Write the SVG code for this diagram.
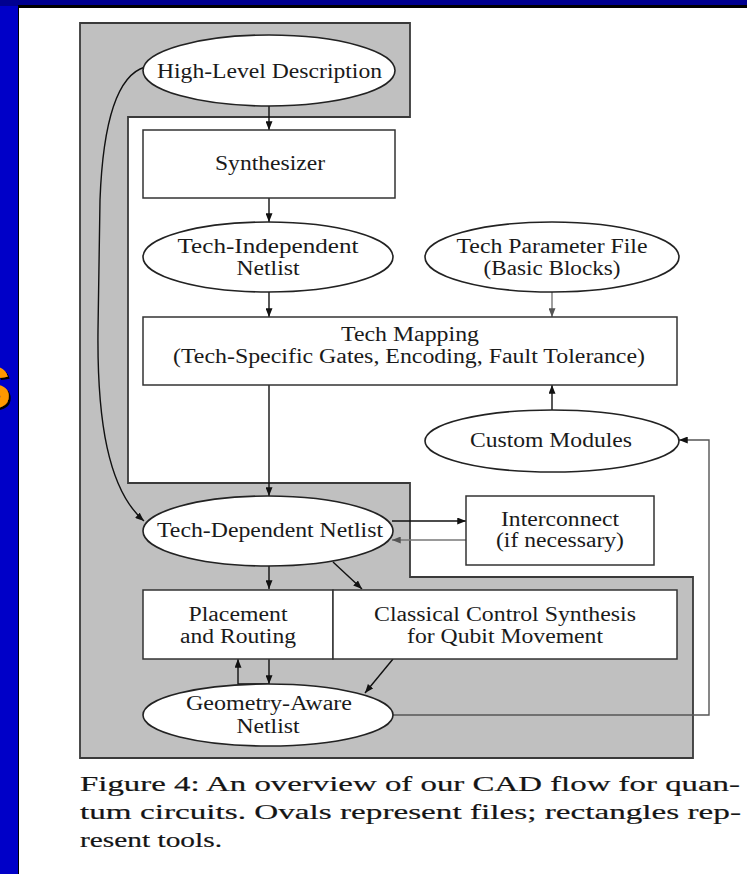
<svg xmlns="http://www.w3.org/2000/svg" width="747" height="874" viewBox="0 0 747 874">
  <style>
    .lbl { font-family: "Liberation Serif", "Times New Roman", serif; font-size: 20px; fill: #1a1a1a; text-anchor: middle; }
    .cap { font-family: "Liberation Serif", "Times New Roman", serif; font-size: 22px; fill: #151515; stroke: #151515; stroke-width: 0.2; }
    .oval { fill: #ffffff; stroke: #222; stroke-width: 1.6; }
    .box { fill: #ffffff; stroke: #333; stroke-width: 1.5; }
    .edge { fill: none; stroke: #111; stroke-width: 1.4; marker-end: url(#ah); }
    .edge-soft { fill: none; stroke: #777; stroke-width: 1.4; marker-end: url(#ah-soft); }
    .edge-mid { fill: none; stroke: #555; stroke-width: 1.4; marker-end: url(#ah); }
  </style>
  <defs>
    <marker id="ah" viewBox="0 0 10 8" refX="10" refY="4" markerWidth="9" markerHeight="7" orient="auto" markerUnits="userSpaceOnUse">
      <path d="M0,0 L10,4 L0,8 z" fill="#111"/>
    </marker>
    <marker id="ah-soft" viewBox="0 0 10 8" refX="10" refY="4" markerWidth="9" markerHeight="7" orient="auto" markerUnits="userSpaceOnUse">
      <path d="M0,0 L10,4 L0,8 z" fill="#555"/>
    </marker>
    <!-- hard black drop shadow for the slide title lettering -->
    <filter id="title-shadow" x="-20%" y="-20%" width="140%" height="140%">
      <feOffset in="SourceAlpha" dx="2" dy="2" result="off"/>
      <feMerge>
        <feMergeNode in="off"/>
        <feMergeNode in="SourceGraphic"/>
      </feMerge>
    </filter>
  </defs>

  <!-- slide background -->
  <rect x="0" y="0" width="747" height="874" fill="#0000c8"/>
  <rect x="0" y="0" width="747" height="6" fill="#000090"/>
  <!-- title letter running under the figure panel -->
  <text x="-29" y="408" font-family="Liberation Sans, Arial, sans-serif" font-weight="bold" font-size="60" fill="#ff9900" filter="url(#title-shadow)">S</text>
  <!-- white figure panel -->
  <rect x="18" y="5" width="729" height="869" fill="#000"/>
  <rect x="19" y="8" width="728" height="866" fill="#ffffff"/>

  <!-- shaded region behind the flow -->
  <polygon id="region" points="80,23 410,23 410,117 128,117 128,483 410,483 410,577 693,577 693,758 80,758" fill="#c0c0c0" stroke="#3a3a3a" stroke-width="1.8"/>

  <g id="connectors">
    <path class="edge" d="M269,106 V130"/>
    <path class="edge" d="M269,198 V222"/>
    <path class="edge" d="M269,292 V317"/>
    <path class="edge-soft" d="M552,292 V317"/>
    <path class="edge" d="M552,410 V385"/>
    <path class="edge" d="M269,385 V496"/>
    <path class="edge" d="M145,67 C118,75 103,120 100,200 L98,330 C97,420 108,490 144,521"/>
    <path class="edge" d="M392,521 H466"/>
    <path class="edge-soft" d="M466,540 H392"/>
    <path class="edge" d="M269,566 V589"/>
    <path class="edge" d="M333,562 L362,589"/>
    <path class="edge" d="M269,659 V684"/>
    <path class="edge" d="M269,684 H238 V659"/>
    <path class="edge" d="M393,659 L365,693"/>
    <path class="edge-mid" d="M393,715 H709 V440 H679"/>
  </g>

  <g id="high-level-description">
    <ellipse class="oval" cx="269" cy="70.5" rx="126" ry="35.5"/>
    <text class="lbl" x="269.5" y="78" textLength="225" lengthAdjust="spacingAndGlyphs">High-Level Description</text>
  </g>

  <g id="synthesizer">
    <rect class="box" x="143" y="130" width="252" height="68"/>
    <text class="lbl" x="270" y="170" textLength="110" lengthAdjust="spacingAndGlyphs">Synthesizer</text>
  </g>

  <g id="tech-independent-netlist">
    <ellipse class="oval" cx="268" cy="257" rx="125" ry="35"/>
    <text class="lbl" x="268" y="253" textLength="181" lengthAdjust="spacingAndGlyphs">Tech-Independent</text>
    <text class="lbl" x="268" y="275" textLength="63" lengthAdjust="spacingAndGlyphs">Netlist</text>
  </g>

  <g id="tech-parameter-file">
    <ellipse class="oval" cx="552" cy="257" rx="127" ry="35"/>
    <text class="lbl" x="552" y="253" textLength="191" lengthAdjust="spacingAndGlyphs">Tech Parameter File</text>
    <text class="lbl" x="552" y="275" textLength="137" lengthAdjust="spacingAndGlyphs">(Basic Blocks)</text>
  </g>

  <g id="tech-mapping">
    <rect class="box" x="143" y="317" width="534" height="68"/>
    <text class="lbl" x="410" y="341" textLength="138" lengthAdjust="spacingAndGlyphs">Tech Mapping</text>
    <text class="lbl" x="409" y="363" textLength="472" lengthAdjust="spacingAndGlyphs">(Tech-Specific Gates, Encoding, Fault Tolerance)</text>
  </g>

  <g id="custom-modules">
    <ellipse class="oval" cx="552" cy="441" rx="127" ry="31"/>
    <text class="lbl" x="551" y="447" textLength="162" lengthAdjust="spacingAndGlyphs">Custom Modules</text>
  </g>

  <g id="tech-dependent-netlist">
    <ellipse class="oval" cx="268" cy="531" rx="125" ry="35"/>
    <text class="lbl" x="270" y="537" textLength="226" lengthAdjust="spacingAndGlyphs">Tech-Dependent Netlist</text>
  </g>

  <g id="interconnect">
    <rect class="box" x="466" y="496" width="188" height="69"/>
    <text class="lbl" x="560" y="526" textLength="118" lengthAdjust="spacingAndGlyphs">Interconnect</text>
    <text class="lbl" x="560" y="547" textLength="128" lengthAdjust="spacingAndGlyphs">(if necessary)</text>
  </g>

  <g id="placement-and-routing">
    <rect class="box" x="143" y="590" width="190" height="69"/>
    <text class="lbl" x="238" y="621" textLength="99" lengthAdjust="spacingAndGlyphs">Placement</text>
    <text class="lbl" x="238" y="643" textLength="116" lengthAdjust="spacingAndGlyphs">and Routing</text>
  </g>

  <g id="classical-control-synthesis">
    <rect class="box" x="333" y="590" width="344" height="69"/>
    <text class="lbl" x="505" y="621" textLength="262" lengthAdjust="spacingAndGlyphs">Classical Control Synthesis</text>
    <text class="lbl" x="505" y="643" textLength="196" lengthAdjust="spacingAndGlyphs">for Qubit Movement</text>
  </g>

  <g id="geometry-aware-netlist">
    <ellipse class="oval" cx="268" cy="715" rx="125" ry="31"/>
    <text class="lbl" x="269" y="710" textLength="166" lengthAdjust="spacingAndGlyphs">Geometry-Aware</text>
    <text class="lbl" x="268" y="733" textLength="63" lengthAdjust="spacingAndGlyphs">Netlist</text>
  </g>

  <g id="caption">
    <text class="cap" x="80" y="791" textLength="660" lengthAdjust="spacingAndGlyphs">Figure 4:  An overview of our CAD flow for quan-</text>
    <text class="cap" x="80" y="819" textLength="661" lengthAdjust="spacingAndGlyphs">tum circuits.  Ovals represent files; rectangles rep-</text>
    <text class="cap" x="80" y="847" textLength="142" lengthAdjust="spacingAndGlyphs">resent tools.</text>
  </g>
</svg>
